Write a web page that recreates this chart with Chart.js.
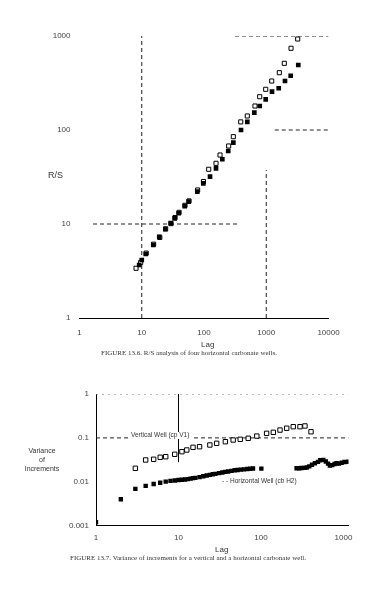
<!DOCTYPE html>
<html>
<head>
<meta charset="utf-8">
<script src="https://cdn.jsdelivr.net/npm/chart.js@4"></script>
<style>
  body { margin: 0; background: #fff; width: 390px; height: 592px; position: relative; overflow: hidden; font-family: "Liberation Sans", Arial, sans-serif; }
  canvas { position: absolute; left: 0; }
  .txt { position: absolute; color: #333; white-space: nowrap; line-height: 1; }
  .cap { font-family: "Liberation Serif", "DejaVu Serif", serif; font-size: 7px; color: #333; }
</style>
</head>
<body>
<canvas id="chartTop" width="390" height="345" style="top:0"></canvas>
<canvas id="chartBot" width="390" height="170" style="top:380px"></canvas>

<div class="txt" style="left:48px; top:171px; font-size:9px;">R/S</div>
<div class="txt" style="left:201px; top:341px; font-size:8px;">Lag</div>
<div class="txt cap" style="left:101px; top:350px;">FIGURE 13.6. R/S analysis of four horizontal carbonate wells.</div>

<div class="txt" style="left:22px; top:446px; width:40px; text-align:center; font-size:7px; line-height:9px;">Variance<br>of<br>Increments</div>
<div class="txt" style="left:129px; top:432px; font-size:6.5px; background:#fff; padding:0 2px;">Vertical Well (cp V1)</div>
<div class="txt" style="left:222px; top:478px; font-size:6.5px; background:#fff;">- - Horizontal Well (cb H2)</div>
<div class="txt" style="left:215px; top:546px; font-size:8px;">Lag</div>
<div class="txt cap" style="left:70px; top:555px;">FIGURE 13.7. Variance of increments for a vertical and a horizontal carbonate well.</div>

<script>
// ---------- 위 그래프: R/S 분석 ----------
const topXTicks = [1, 10, 100, 1000, 10000];
const topXLabels = ["1", "10", "100", "1000", "10000"];
const topYTicks = [1, 10, 100, 1000];
const topYLabels = ["1", "10", "100", "1000"];

// 채워진 사각형
const topLagFilled = [9.1, 10, 11.6, 15.3, 19.1, 23.9, 29.2, 33.8, 39.2, 49, 56.8, 78, 97.5, 125, 156, 197, 245, 296, 393, 496, 643, 785, 980, 1237, 1585, 2000, 2470, 3270];
const topRsFilled  = [3.66, 4.14, 4.8, 5.98, 7.3, 8.8, 10.2, 11.5, 13, 15.5, 17.3, 22.1, 27.1, 31.9, 39.1, 48.8, 59.8, 73.3, 100, 122, 153, 180, 212, 256, 278, 332, 378, 491];

// 빈 사각형
const topLagOpen = [8.1, 9.6, 11.8, 15.5, 19.5, 24.2, 29.6, 34.3, 39.8, 49.5, 57.5, 79, 98, 119, 156, 181, 249, 296, 389, 496, 659, 785, 980, 1224, 1622, 1950, 2500, 3200];
const topRsOpen  = [3.38, 3.9, 4.9, 6.1, 7.2, 8.9, 10.1, 11.7, 13.3, 15.8, 17.6, 23, 28.3, 38.2, 44.2, 54.2, 67.6, 84.9, 122, 141, 180, 226, 271, 332, 407, 512, 740, 929];

// 점선 기준선 [x1, y1, x2, y2]
const topGuides = [
    [10, 1, 10, 1000],
    [1.65, 10, 340, 10],
    [315, 1000, 10000, 1000],
    [1370, 100, 10000, 100],
    [1000, 1, 1000, 37.5]
];

// ---------- 아래 그래프: 증분 분산 ----------
const botXTicks = [1, 10, 100, 1000];
const botXLabels = ["1", "10", "100", "1000"];
const botYTicks = [1, 0.1, 0.01, 0.001];
const botYLabels = ["1", "0.1", "0.01", "0.001"];

// Vertical Well (cp V1) - 빈 사각형
const botLagV = [3, 4, 5, 6, 7, 9, 11, 12.6, 15, 18, 24, 29, 37, 46, 56, 70, 89, 117, 141, 170, 205, 246, 297, 341, 404];
const botVarV = [0.0203, 0.0314, 0.0326, 0.0362, 0.0373, 0.0423, 0.0485, 0.053, 0.061, 0.063, 0.0689, 0.0753, 0.0819, 0.0895, 0.0929, 0.098, 0.110, 0.127, 0.134, 0.151, 0.166, 0.180, 0.180, 0.187, 0.138];

// Horizontal Well (cb H2) - 채워진 사각형
const botLagH = [1, 2, 3, 4, 5, 6, 7, 8, 9, 10, 11, 12, 13, 14, 15, 16, 18, 20, 22, 24, 26, 28, 31, 34, 37, 40, 44, 48, 52, 57, 62, 68, 74, 80, 101,
                 270, 290, 310, 335, 358, 385, 415, 450, 490, 523, 569, 610, 650, 684, 730, 780, 825, 880, 950, 1030, 1143];
const botVarH = [0.0012, 0.004, 0.0069, 0.0081, 0.0089, 0.0095, 0.0101, 0.0105, 0.0107, 0.011, 0.0111, 0.0113, 0.0115, 0.0118, 0.0121, 0.0123, 0.0128, 0.0134, 0.0139, 0.0144, 0.0149, 0.0152, 0.0158, 0.0163, 0.0168, 0.0172, 0.0177, 0.0183, 0.0186, 0.0189, 0.0192, 0.0196, 0.0198, 0.0201, 0.0200,
                 0.0203, 0.0204, 0.0206, 0.0208, 0.0212, 0.0225, 0.0245, 0.0265, 0.0285, 0.031, 0.0315, 0.029, 0.026, 0.0235, 0.024, 0.0255, 0.0264, 0.026, 0.0272, 0.0282, 0.0287];

const botGuides = [
    { seg: [1, 1, 1150, 1], dash: [2, 4], color: "#777" },
    { seg: [1, 0.1, 1150, 0.1], dash: [4, 3], color: "#222" },
    { seg: [10, 0.028, 10, 1], dash: [], color: "#000" }
];

Chart.defaults.font.family = '"Liberation Sans", Arial, sans-serif';
Chart.defaults.animation = false;

function toPoints(xs, ys) {
    return xs.map((x, i) => ({ x: x, y: ys[i] }));
}

function guideSet(seg, dash, color) {
    return {
        type: "line",
        data: [{ x: seg[0], y: seg[1] }, { x: seg[2], y: seg[3] }],
        borderColor: color,
        borderWidth: 1,
        borderDash: dash,
        pointRadius: 0,
        showLine: true,
        order: 10
    };
}

function logAxis(ticks, labels, size, pad, min, max, isX) {
    return {
        type: "logarithmic",
        min: min,
        max: max,
        afterBuildTicks: s => { s.ticks = ticks.map(v => ({ value: v, major: true })); },
        afterFit: s => { if (isX) s.height = size; else s.width = size; },
        ticks: {
            autoSkip: false,
            maxRotation: 0,
            padding: pad,
            color: "#444",
            font: { size: 8 },
            callback: (v, i) => labels[i]
        },
        grid: { display: false, drawTicks: false },
        border: { display: isX, color: "#000", width: 1 }
    };
}

// 위 그래프
const topSets = topGuides.map(g => guideSet(g, [4, 3], "#222"));
topSets.push({
    data: toPoints(topLagOpen, topRsOpen),
    pointStyle: "rect",
    pointRadius: 2.9,
    backgroundColor: "#fff",
    borderColor: "#000",
    borderWidth: 1,
    order: 1
});
topSets.push({
    data: toPoints(topLagFilled, topRsFilled),
    pointStyle: "rect",
    pointRadius: 3.3,
    backgroundColor: "#000",
    borderColor: "#000",
    borderWidth: 0,
    order: 0
});

new Chart(document.getElementById("chartTop"), {
    type: "scatter",
    data: { datasets: topSets },
    options: {
        responsive: false,
        devicePixelRatio: 1,
        layout: { padding: { top: 36, right: 61.5, left: 0, bottom: 0 } },
        plugins: { legend: { display: false }, tooltip: { enabled: false } },
        scales: {
            x: logAxis(topXTicks, topXLabels, 27, 10, 1, 10000, true),
            y: logAxis(topYTicks, topYLabels, 79.5, 9, 1, 1000, false)
        }
    }
});

// 아래 그래프
const botSets = botGuides.map(g => guideSet(g.seg, g.dash, g.color));
botSets.push({
    data: toPoints(botLagV, botVarV),
    pointStyle: "rect",
    pointRadius: 3.1,
    backgroundColor: "#fff",
    borderColor: "#000",
    borderWidth: 1,
    order: 1
});
botSets.push({
    data: toPoints(botLagH, botVarH),
    pointStyle: "rect",
    pointRadius: 3.1,
    backgroundColor: "#000",
    borderColor: "#000",
    borderWidth: 0,
    order: 0
});

const botY = logAxis(botYTicks, botYLabels, 96, 7, 0.001, 1, false);
botY.border = { display: true, color: "#000", width: 1 };

new Chart(document.getElementById("chartBot"), {
    type: "scatter",
    data: { datasets: botSets },
    options: {
        responsive: false,
        devicePixelRatio: 1,
        layout: { padding: { top: 14, right: 41.5, left: 0, bottom: 0 } },
        plugins: { legend: { display: false }, tooltip: { enabled: false } },
        scales: {
            x: logAxis(botXTicks, botXLabels, 24.3, 7, 1, 1150, true),
            y: botY
        }
    }
});
</script>
</body>
</html>
